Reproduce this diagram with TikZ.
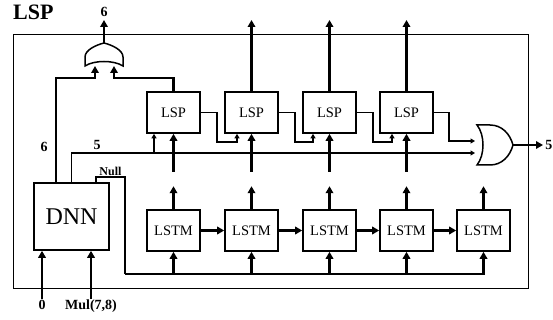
\documentclass[tikz,border=0pt]{standalone}
\usepackage{fontspec}
\setmainfont{Liberation Serif}
\usetikzlibrary{arrows.meta}

\tikzset{
  block/.style={draw, line width=1.6pt, minimum width=53pt, minimum height=41pt,
    inner sep=0pt, font=\fontsize{14.5}{16}\selectfont},
  gate/.style={line width=1.5pt},
  bus/.style={line width=2.8pt, -{Triangle[length=7pt,width=7.5pt]}},
  wire/.style={line width=1.5pt, -{Triangle[length=4.5pt,width=5pt]}},
  lab/.style={font=\bfseries\fontsize{14}{16}\selectfont, inner sep=1pt},
}

\begin{document}
\begin{tikzpicture}[x=1pt,y=-1pt]
    \useasboundingbox (0,0) rectangle (553,320);
    \node[anchor=base west, inner sep=0pt, font=\bfseries\fontsize{22}{24}\selectfont] (title) at (13,20) {LSP};
    \draw[line width=1pt] (13,35) rectangle (528,288);

    % blocks
    \node[block, minimum width=75pt, minimum height=67pt, font=\fontsize{24}{26}\selectfont] (dnn) at (71.5,216.5) {DNN};
    \foreach \i/\x in {1/173.5,2/251.5,3/329.5,4/406.5}
        \node[block] (lsp\i) at (\x,112.5) {LSP};
    \foreach \i/\x in {1/173.5,2/251.5,3/329.5,4/406.5,5/483.5}
        \node[block] (lstm\i) at (\x,230.5) {LSTM};

    % gates
    \draw[gate] (85,66) .. controls (94,60) and (114,60) .. (123,66)
        -- (123,57) .. controls (123,50) and (112,45) .. (104,43)
        .. controls (96,45) and (85,50) .. (85,57) -- cycle;
    \coordinate (andin1) at (95,66);
    \coordinate (andin2) at (114,66);
    \coordinate (andout) at (104,43);
    \draw[gate] (477,125) .. controls (485,135) and (485,155) .. (477,165)
        -- (490,165) .. controls (502,165) and (510,156) .. (513,145)
        .. controls (510,134) and (502,125) .. (490,125) -- cycle;
    \coordinate (orin1) at (475,141);
    \coordinate (orin2) at (475,153);
    \coordinate (orout) at (513,145);

    \coordinate (nullc) at (125,177);
    \coordinate (busl) at (125,274);
    \coordinate (topy) at (0,20);

    % outputs to the top
    \draw[bus] ([xshift=-15.5pt]dnn.north) |- ([yshift=-12pt]andin1) -- (andin1);
    \draw[bus] (lsp1.north) |- ([yshift=-12pt]andin2) -- (andin2);
    \draw[bus] (andout) -- (andout |- topy) node[above, lab, inner sep=1.5pt] {6};
    \foreach \i in {2,3,4}
        \draw[bus] (lsp\i.north) -- (lsp\i.north |- topy);
    \node[lab] (six) at (44,147) {6};

    % 5 line
    \draw[wire] (dnn.north) |- (orin2);
    \node[lab] (five) at (97,145) {5};
    \coordinate (t1) at ([xshift=-19.5pt]lsp1.south);
    \draw[wire] (t1 |- orin2) -- (t1);

    % LSP chain
    \foreach \i/\j/\d in {1/2/-14.5,2/3/-16.5,3/4/-14.5} {
        \coordinate (in\j) at ([xshift=\d pt]lsp\j.south);
        \draw[wire] (lsp\i.east) -- ++(16,0) |- ([yshift=-8pt]in\j) -- (in\j);
    }
    \draw[wire] (lsp4.east) -- ++(15,0) |- (orin1);
    \draw[bus] (orout) -- ++(30,0) node[right, lab] {5};

    % LSTM chain
    \foreach \i in {1,...,4} {
        \pgfmathtruncatemacro\j{\i+1}
        \draw[bus] (lstm\i.east) -- (lstm\j.west);
    }
    \foreach \i in {1,...,5}
        \draw[bus] (lstm\i.north) -- ++(0,-23);
    \foreach \i in {1,...,4}
        \draw[bus] ([yshift=-38pt]lsp\i.south) -- (lsp\i.south);

    % Null
    \draw[line width=1.5pt] ([xshift=24.5pt]dnn.north) |- (nullc) -- (busl);
    \node[lab, above, font=\bfseries\fontsize{12}{14}\selectfont] (null) at (110.5,177) {Null};
    \draw[bus] (busl) -| (lstm5.south);
    \foreach \i in {1,...,4}
        \draw[bus] (lstm\i.south |- busl) -- (lstm\i.south);

    % DNN inputs
    \node[lab, anchor=north] (zero) at (42,299) {0};
    \node[lab, anchor=north] (mul) at (91,299) {Mul(7,8)};
    \draw[bus] (zero.north) -- (zero.north |- dnn.south);
    \draw[bus] (mul.north) -- (mul.north |- dnn.south);
\end{tikzpicture}
\end{document}
